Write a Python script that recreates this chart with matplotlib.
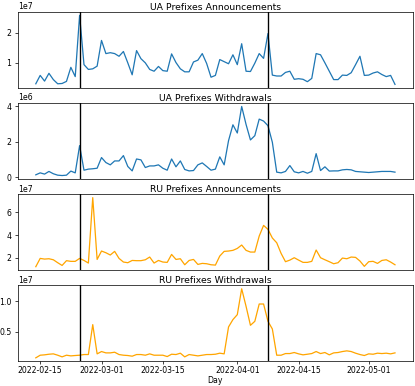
import numpy as np
import pandas as pd
import matplotlib
matplotlib.use("Agg")
import matplotlib.pyplot as plt
import matplotlib.dates as mdates

# Data ------------------------------------------------------------------------
days = pd.date_range("2022-02-14", "2022-05-07", freq="D")

# UA announcements (x 1e7)
ua_ann = [0.29, 0.57, 0.38, 0.64, 0.43, 0.29, 0.30, 0.37, 0.84, 0.53,
          2.58, 0.93, 0.77, 0.79, 0.88, 1.74, 1.30, 1.33, 1.30, 1.21,
          1.37, 0.99, 0.59, 1.40, 1.13, 0.99, 0.77, 0.71, 0.87, 0.73,
          0.71, 1.29, 1.00, 0.79, 0.69, 0.69, 1.02, 1.08, 1.30, 0.97,
          0.51, 0.57, 1.10, 1.03, 0.96, 1.26, 0.93, 1.63, 0.71, 0.70,
          0.98, 1.30, 1.14, 1.97, 0.58, 0.55, 0.55, 0.67, 0.71, 0.44,
          0.46, 0.44, 0.36, 0.47, 1.30, 1.26, 0.99, 0.71, 0.43, 0.43,
          0.58, 0.57, 0.66, 0.93, 1.21, 0.57, 0.58, 0.65, 0.69, 0.60,
          0.53, 0.57, 0.27]

# UA withdrawals (x 1e6)
ua_wd = [0.13, 0.24, 0.17, 0.32, 0.19, 0.11, 0.09, 0.11, 0.34, 0.24,
         1.77, 0.39, 0.45, 0.47, 0.50, 1.10, 0.82, 0.69, 0.91, 0.91,
         1.21, 0.60, 0.35, 1.02, 0.97, 0.54, 0.63, 0.63, 0.69, 0.50,
         0.39, 1.02, 0.58, 0.91, 0.43, 0.35, 0.37, 0.69, 0.80, 0.60,
         0.39, 0.45, 1.14, 0.69, 2.05, 2.94, 2.48, 3.97, 2.96, 2.09,
         2.33, 3.26, 3.15, 2.89, 1.96, 0.28, 0.24, 0.32, 0.65, 0.30,
         0.24, 0.32, 0.22, 0.32, 1.32, 0.37, 0.58, 0.34, 0.35, 0.35,
         0.41, 0.43, 0.41, 0.32, 0.30, 0.28, 0.26, 0.28, 0.30, 0.32,
         0.32, 0.32, 0.28]

# RU announcements (x 1e7)
ru_ann = [1.21, 1.94, 1.88, 1.91, 1.82, 1.56, 1.32, 1.74, 1.68, 1.68,
          1.94, 1.76, 1.53, 7.30, 1.85, 2.59, 2.44, 2.24, 2.56, 1.94,
          1.62, 1.56, 1.76, 1.74, 1.74, 1.82, 2.06, 1.53, 1.76, 1.62,
          1.59, 2.29, 1.85, 1.91, 1.38, 1.76, 1.85, 1.41, 1.50, 1.47,
          1.38, 1.35, 2.15, 2.56, 2.59, 2.65, 2.82, 3.12, 2.65, 2.50,
          2.50, 3.91, 4.85, 4.50, 3.74, 3.32, 2.38, 1.65, 1.79, 2.00,
          1.79, 1.59, 1.59, 1.68, 2.68, 2.00, 1.82, 1.65, 1.47, 1.56,
          1.97, 1.91, 2.06, 2.03, 1.71, 1.24, 1.65, 1.68, 1.50, 1.76,
          1.82, 1.62, 1.38]

# RU withdrawals (x 1e6)
ru_wd = [0.71, 1.14, 1.20, 1.30, 1.36, 1.14, 0.87, 1.14, 1.03, 1.09,
         1.14, 1.25, 1.25, 6.14, 1.36, 1.74, 1.52, 1.52, 1.63, 1.25,
         1.14, 1.09, 0.98, 1.25, 1.25, 1.14, 1.36, 1.14, 1.14, 1.14,
         0.92, 1.30, 1.25, 1.47, 0.87, 1.25, 1.14, 1.03, 1.14, 1.25,
         1.25, 1.30, 1.47, 1.36, 5.76, 6.96, 7.77, 12.0, 9.13, 6.03,
         6.68, 9.51, 9.51, 6.68, 5.43, 1.14, 1.14, 1.41, 1.41, 1.58,
         1.36, 1.20, 1.30, 1.41, 1.74, 1.41, 1.58, 1.20, 1.52, 1.58,
         1.74, 1.85, 1.74, 1.47, 1.25, 1.09, 1.36, 1.30, 1.47, 1.41,
         1.47, 1.36, 1.52]

events = ["2022-02-24", "2022-04-08"]
tick_days = ["2022-02-15", "2022-03-01", "2022-03-15",
             "2022-04-01", "2022-04-15", "2022-05-01"]

panels = [
    ("UA Prefixes Announcements", np.array(ua_ann) * 1e7, "#1f77b4"),
    ("UA Prefixes Withdrawals", np.array(ua_wd) * 1e6, "#1f77b4"),
    ("RU Prefixes Announcements", np.array(ru_ann) * 1e7, "orange"),
    ("RU Prefixes Withdrawals", np.array(ru_wd) * 1e6, "orange"),
]

plt.rcParams["font.size"] = 8.6

# Figure ----------------------------------------------------------------------
fig, axes = plt.subplots(4, 1, figsize=(6.385, 5.94), dpi=65, sharex=True)
fig.subplots_adjust(left=0.043, right=0.995, top=0.969, bottom=0.064,
                    hspace=0.2)

for ax, (title, vals, color) in zip(axes, panels):
    ax.plot(days, vals, color=color, lw=1.4)
    for ev in events:
        ax.axvline(pd.Timestamp(ev), color="black", lw=1.5)
    ax.set_title(title, pad=2)

for ax in axes[:-1]:
    ax.tick_params(axis="x", bottom=False)

axes[-1].tick_params(axis="x", pad=2)
axes[-1].set_xticks(pd.to_datetime(tick_days))
axes[-1].xaxis.set_major_formatter(mdates.DateFormatter("%Y-%m-%d"))
axes[-1].set_xlabel("Day", labelpad=0.5)

fig.savefig("out.png")
